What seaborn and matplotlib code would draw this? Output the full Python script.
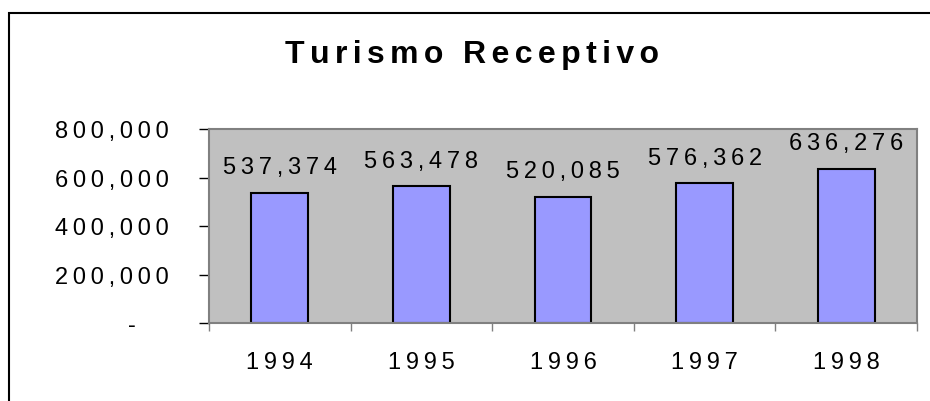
# Turismo Receptivo - bar chart of arrivals per year, Excel-like look

import matplotlib
matplotlib.use('Agg')
import matplotlib.pyplot as plt
import seaborn as sns
import pandas as pd
from matplotlib.patches import Rectangle

# Data
years = ['1994', '1995', '1996', '1997', '1998']
arrivals = [537374, 563478, 520085, 576362, 636276]
y_ticks = [0, 200000, 400000, 600000, 800000]
title = 'Turismo Receptivo'

THIN = '\u2009'
SIXTH = '\u2006'


def spaced(s, sep=THIN):
    """Spread characters apart, like the letter spacing of the original."""
    return sep.join(s)


def fmt_num(v):
    if v == 0:
        return '-' + ' ' * 5
    return spaced(f'{v:,}')


sns.set_theme(style='white')
plt.rcParams['font.family'] = ['Liberation Sans', 'DejaVu Sans']

df = pd.DataFrame({'Year': years, 'Arrivals': arrivals})

fig = plt.figure(figsize=(9.3, 4.02), dpi=100)
ax = fig.add_axes([209 / 930, 78 / 402, 708 / 930, 194 / 402])

sns.barplot(data=df, x='Year', y='Arrivals', color='#9999FF', saturation=1,
            edgecolor='black', linewidth=1.5, width=0.4, ax=ax)

ax.set_facecolor('#C0C0C0')
ax.set_xlim(-0.5, 4.5)
ax.set_ylim(0, 800000)
ax.set_xlabel('')
ax.set_ylabel('')

# y axis
ax.set_yticks(y_ticks)
ax.set_yticklabels([fmt_num(v) for v in y_ticks])
ax.tick_params(axis='y', left=True, length=7.2, width=1, color='black',
               pad=22, labelsize=17, labelcolor='black')

# x axis: labels centred, tick marks between categories
ax.set_xticks(range(len(years)))
ax.set_xticklabels([spaced(y) for y in years])
ax.set_xticks([i - 0.5 for i in range(len(years) + 1)], minor=True)
ax.tick_params(axis='x', which='major', bottom=True, length=0, pad=20,
               labelsize=17, labelcolor='black')
ax.tick_params(axis='x', which='minor', bottom=True, length=5.8, width=1,
               color='#808080')

for side in ['top', 'right', 'left', 'bottom']:
    ax.spines[side].set_visible(True)
    ax.spines[side].set_color('#808080')
    ax.spines[side].set_linewidth(1.5)

# value labels above each bar
for i, v in enumerate(arrivals):
    ax.annotate(fmt_num(v), (i, v), xytext=(0, 14), textcoords='offset points',
                ha='center', va='baseline', fontsize=17, color='black')

# title
fig.text(472 / 930, 1 - 63 / 402, spaced(title, SIXTH), ha='center',
         va='baseline', fontsize=23, fontweight='bold', color='black')

# chart area border (cut off at right and bottom like the original)
fig.add_artist(Rectangle((9 / 930, -0.2), 1.2, 0.2 + (402 - 14) / 402,
                         transform=fig.transFigure, fill=False,
                         edgecolor='black', linewidth=1.5, clip_on=False))

fig.savefig('out.png', dpi=100)
